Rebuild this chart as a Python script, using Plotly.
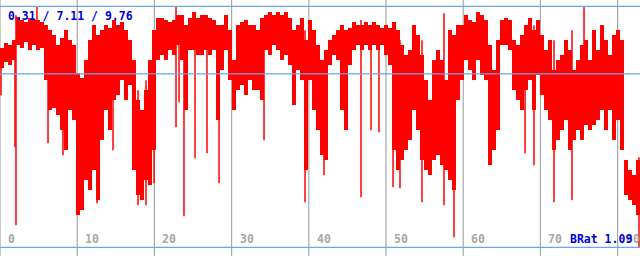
import numpy as np
import plotly.graph_objects as go

# upper / lower envelope of the signal per sample (values)
hi = [8.12, 8.31, 8.24, 8.43, 9.33, 9.22, 9.14, 9.29, 9.22, 9.22, 9.14, 9.02, 8.82, 8.63, 8.24, 8.51,
      8.82, 8.43, 8.24, 7.14, 6.94, 7.65, 8.43, 9.02, 8.63, 8.82, 9.02, 8.90, 9.22, 9.02, 9.14, 8.82,
      8.43, 7.65, 6.08, 5.69, 6.47, 7.65, 8.82, 9.29, 9.29, 9.22, 9.14, 9.22, 9.41, 9.41, 9.02, 9.29,
      9.53, 9.29, 9.41, 9.41, 9.29, 9.22, 9.02, 9.02, 9.41, 8.82, 7.65, 9.02, 9.14, 9.22, 9.02, 9.02,
      8.82, 9.29, 9.41, 9.53, 9.41, 9.53, 9.41, 9.53, 9.29, 8.82, 9.02, 9.29, 8.43, 9.22, 8.82, 8.24,
      7.65, 8.04, 8.43, 8.63, 8.82, 9.02, 8.82, 8.90, 9.14, 9.02, 9.02, 9.14, 9.02, 9.14, 9.02, 8.90,
      9.02, 8.90, 9.14, 8.82, 8.24, 7.84, 8.04, 9.02, 8.63, 7.84, 6.86, 6.08, 7.65, 8.04, 7.65, 6.86,
      8.82, 8.63, 9.02, 9.02, 9.41, 9.22, 9.14, 9.53, 9.41, 9.22, 8.24, 7.25, 8.43, 9.22, 9.29, 9.22,
      8.43, 8.24, 8.63, 9.02, 9.29, 8.82, 9.22, 8.63, 8.04, 8.43, 7.25, 7.65, 7.84, 8.43, 8.04, 7.25,
      7.65, 8.24, 8.43, 7.65, 8.82, 8.04, 9.02, 8.43, 7.84, 8.63, 8.82, 8.43, 3.73, 3.33, 3.14, 3.73]
lo = [7.33, 7.57, 7.45, 7.65, 8.24, 8.12, 8.35, 8.04, 8.24, 8.04, 8.12, 6.86, 5.69, 5.76, 5.49, 4.90,
      4.12, 5.69, 5.29, 1.57, 1.76, 2.94, 2.55, 3.33, 2.16, 4.51, 5.69, 4.90, 6.08, 6.27, 6.86, 6.08,
      6.67, 3.33, 2.35, 2.16, 2.94, 2.75, 4.12, 7.65, 7.84, 7.65, 8.04, 7.84, 8.24, 7.65, 5.69, 8.04,
      8.04, 7.84, 7.84, 8.04, 7.84, 8.04, 5.29, 7.25, 8.04, 6.86, 5.69, 6.47, 6.67, 6.27, 6.86, 6.47,
      6.47, 6.08, 8.04, 7.84, 8.24, 8.04, 7.65, 7.84, 7.45, 5.88, 7.25, 6.86, 3.33, 6.86, 5.69, 4.90,
      3.92, 3.73, 7.45, 7.84, 7.65, 5.69, 4.90, 7.45, 8.04, 8.24, 8.04, 8.24, 8.04, 8.24, 8.04, 8.24,
      7.84, 7.45, 4.12, 3.33, 3.73, 4.12, 4.51, 5.69, 4.90, 3.73, 3.33, 3.14, 3.73, 3.92, 3.53, 3.33,
      2.94, 2.55, 6.08, 6.86, 7.65, 7.25, 6.86, 7.65, 7.06, 6.86, 3.53, 4.12, 4.90, 8.24, 8.24, 8.04,
      6.47, 6.08, 5.69, 6.47, 6.86, 5.69, 7.06, 6.27, 5.69, 5.29, 4.12, 4.51, 4.90, 5.29, 4.12, 4.51,
      4.90, 4.51, 5.10, 4.90, 5.10, 5.29, 5.69, 4.90, 5.69, 4.51, 5.29, 4.12, 2.35, 2.16, 1.96, 1.57]

# isolated thin spikes: time, top, bottom
spike_t = [0.13, 1.94, 2.07, 4.79, 6.22, 8.16, 12.56, 14.64, 17.88, 18.91, 19.95, 22.80, 23.19,
           23.83, 25.26, 26.81, 28.37, 34.20, 39.51, 41.97, 46.76, 48.06, 49.09, 50.91, 51.81,
           54.66, 57.51, 58.81, 68.01, 69.17, 71.76, 74.09, 75.65, 82.77]
spike_hi = [8.04, 8.04, 9.41, 9.73, 8.82, 8.04, 8.43, 8.43, 6.47, 6.86, 8.43, 9.73, 9.22,
            8.43, 9.22, 8.82, 9.02, 9.02, 8.82, 7.65, 9.22, 8.82, 8.82, 9.02, 8.43,
            8.43, 9.49, 8.43, 8.82, 9.02, 8.43, 8.82, 9.73, 3.84]
spike_lo = [6.27, 4.24, 1.18, 8.43, 4.39, 3.92, 2.04, 4.12, 1.96, 1.96, 2.82, 5.02, 6.00,
            1.53, 3.80, 4.00, 2.82, 4.51, 2.08, 3.14, 2.27, 4.90, 4.82, 2.67, 2.63,
            2.08, 1.96, 0.71, 4.00, 3.53, 2.08, 2.16, 6.47, 0.31]

stats_text = "0.31 / 7.11 / 9.76"
ref_lines = [0.31, 7.11, 9.76]
tick_vals = [0, 10, 20, 30, 40, 50, 60, 70, 80]
corner_text = "BRat 1.09"

step = 82.9 / len(hi)
t = (np.arange(len(hi)) + 0.5) * step
hi_a = np.array(hi)
lo_a = np.array(lo)

fig = go.Figure()
fig.add_trace(go.Bar(x=t, base=lo_a, y=hi_a - lo_a, width=step,
                     marker=dict(color="#ff0000", line=dict(width=0)),
                     hoverinfo="skip"))
sx, sy = [], []
for a, b, c in zip(spike_t, spike_hi, spike_lo):
    sx += [a, a, None]
    sy += [b, c, None]
fig.add_trace(go.Scatter(x=sx, y=sy, mode="lines",
                         line=dict(color="#ff0000", width=1.5), hoverinfo="skip"))

shapes = []
for v in tick_vals:
    shapes.append(dict(type="line", xref="x", yref="paper", x0=v, x1=v, y0=0, y1=1,
                       line=dict(color="#a8a8a8", width=1.2), layer="below"))
for v in ref_lines:
    shapes.append(dict(type="line", xref="paper", yref="y", x0=0, x1=1, y0=v, y1=v,
                       line=dict(color="#6aa6ea", width=1.2), layer="above"))

mono = "DejaVu Sans Mono"
ann = []
for v in tick_vals:
    ann.append(dict(x=v, y=0, xref="x", yref="paper", text=f"<b>{v}</b>", showarrow=False,
                    xanchor="left", yanchor="bottom", xshift=6, yshift=8,
                    font=dict(family=mono, size=11.5, color="#a8a8a8")))
ann.append(dict(x=0, y=1, xref="paper", yref="paper", text=f"<b>{stats_text}</b>", showarrow=False,
                xanchor="left", yanchor="top", xshift=6, yshift=-7,
                font=dict(family=mono, size=11.5, color="#0000e6")))
ann.append(dict(x=1, y=0, xref="paper", yref="paper", text=f"<b>{corner_text}</b>", showarrow=False,
                xanchor="right", yanchor="bottom", xshift=-6, yshift=8,
                font=dict(family=mono, size=11.5, color="#0000e6")))

fig.update_layout(
    width=640, height=256, margin=dict(l=0, r=0, t=0, b=0),
    paper_bgcolor="white", plot_bgcolor="white", showlegend=False, bargap=0,
    xaxis=dict(range=[0, 82.9], showgrid=False, zeroline=False, showticklabels=False, fixedrange=True),
    yaxis=dict(range=[-0.03, 10.007], showgrid=False, zeroline=False, showticklabels=False, fixedrange=True),
    shapes=shapes, annotations=ann,
)
fig.write_html("out.html", config={"displayModeBar": False})
